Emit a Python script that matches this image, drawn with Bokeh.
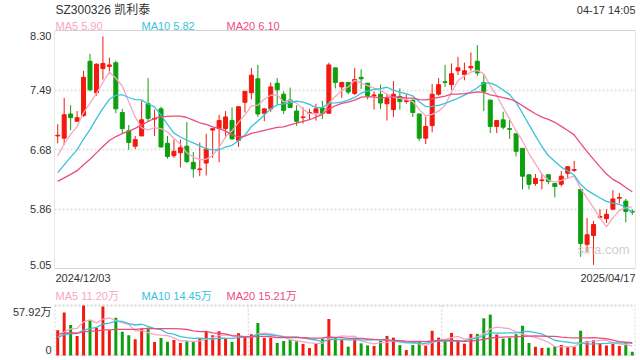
import numpy as np
from bokeh.plotting import figure
from bokeh.models import ColumnDataSource, Range1d, FixedTicker
from bokeh.core.properties import value
from bokeh.embed import file_html
from bokeh.resources import INLINE

# ---------------- data ----------------
symbol_title = "SZ300326 凯利泰"
time_stamp = "04-17 14:05"
first_date = "2024/12/03"
last_date = "2025/04/17"
price_ma_text = ["MA5 5.90", "MA10 5.82", "MA20 6.10"]
vol_ma_text = ["MA5 11.20万", "MA10 14.45万", "MA20 15.21万"]

open_ = [6.86, 6.83, 7.16, 7.06, 7.14, 7.88, 7.45, 7.78, 7.81, 7.86,
         7.18, 6.93, 6.72, 6.86, 7.30, 7.09, 7.23, 6.76, 6.59, 6.63,
         6.72, 6.50, 6.40, 6.49, 6.94, 6.96, 6.96, 7.07, 6.80, 7.32,
         7.45, 7.64, 7.17, 7.23, 7.58, 7.43, 7.35, 7.20, 7.11, 7.17,
         7.17, 7.24, 7.17, 7.79, 7.53, 7.59, 7.44, 7.66, 7.58, 7.41,
         7.43, 7.30, 7.22, 7.40, 7.33, 7.35, 7.16, 6.83, 7.00, 7.43,
         7.60, 7.56, 7.75, 7.70, 7.79, 7.88, 7.59, 7.35, 6.99, 7.08,
         6.96, 6.89, 6.69, 6.33, 6.21, 6.25, 6.33, 6.21, 6.20, 6.35,
         6.39, 6.13, 5.38, 5.50, 5.75, 5.73, 5.86, 6.01, 5.97, 5.83]
high = [7.02, 7.38, 7.28, 7.20, 7.75, 7.98, 7.85, 8.22, 7.93, 7.89,
        7.23, 7.01, 6.86, 7.34, 7.65, 7.22, 7.26, 6.86, 6.81, 6.81,
        7.05, 6.64, 6.77, 6.89, 6.96, 7.15, 7.20, 7.25, 7.26, 7.47,
        7.79, 7.83, 7.23, 7.59, 7.65, 7.47, 7.52, 7.28, 7.25, 7.23,
        7.30, 7.34, 7.86, 7.79, 7.60, 7.59, 7.79, 7.77, 7.58, 7.47,
        7.56, 7.43, 7.61, 7.51, 7.43, 7.35, 7.16, 7.12, 7.57, 7.65,
        7.83, 7.85, 7.94, 7.86, 8.00, 8.10, 7.69, 7.35, 7.07, 7.19,
        7.08, 6.89, 6.69, 6.33, 6.34, 6.34, 6.33, 6.21, 6.38, 6.45,
        6.52, 6.13, 5.74, 5.70, 5.86, 5.86, 6.12, 6.08, 6.00, 5.86]
low = [6.76, 6.74, 6.94, 7.06, 7.12, 7.47, 7.41, 7.63, 7.74, 7.17,
       6.90, 6.67, 6.68, 6.86, 7.06, 6.86, 6.70, 6.55, 6.56, 6.43,
       6.49, 6.29, 6.31, 6.32, 6.56, 6.50, 6.83, 6.81, 6.71, 7.18,
       7.36, 7.12, 7.06, 7.19, 7.29, 7.16, 7.25, 7.00, 7.03, 7.09,
       7.07, 7.09, 7.16, 7.51, 7.38, 7.43, 7.42, 7.50, 7.36, 7.22,
       7.23, 7.07, 7.12, 7.22, 7.30, 7.12, 6.79, 6.75, 6.91, 7.41,
       7.53, 7.49, 7.69, 7.62, 7.75, 7.68, 7.20, 6.90, 6.90, 6.95,
       6.82, 6.58, 6.13, 6.13, 6.18, 6.13, 6.20, 6.02, 6.17, 6.28,
       6.37, 5.21, 5.27, 5.10, 5.73, 5.67, 5.85, 5.94, 5.68, 5.78]
close = [6.87, 7.15, 7.11, 7.11, 7.66, 7.49, 7.84, 7.85, 7.83, 7.23,
         6.96, 6.77, 6.81, 7.08, 7.10, 7.10, 6.71, 6.58, 6.65, 6.70,
         6.51, 6.41, 6.41, 6.68, 6.96, 7.07, 7.12, 6.82, 7.26, 7.47,
         7.69, 7.16, 7.23, 7.53, 7.49, 7.21, 7.25, 7.06, 7.12, 7.18,
         7.23, 7.17, 7.83, 7.59, 7.59, 7.46, 7.63, 7.64, 7.41, 7.42,
         7.31, 7.37, 7.43, 7.33, 7.34, 7.18, 6.83, 6.99, 7.43, 7.56,
         7.59, 7.71, 7.79, 7.75, 7.81, 7.72, 7.47, 6.99, 7.07, 6.98,
         6.95, 6.65, 6.31, 6.20, 6.28, 6.26, 6.24, 6.17, 6.31, 6.44,
         6.40, 5.39, 5.51, 5.65, 5.76, 5.79, 6.00, 6.02, 5.83, 5.82]
volume = [29.35, 49.7, 35.2, 22.7, 57.92, 41.1, 32.1, 56.7, 29.35, 43.8,
          27.4, 23.5, 18.8, 31.3, 32.1, 15.7, 20.4, 16.0, 18.0, 14.5,
          16.4, 15.7, 19.6, 28.2, 23.5, 28.2, 19.6, 15.7, 25.8, 21.5,
          24.7, 37.6, 20.4, 20.4, 14.5, 16.8, 18.4, 16.4, 13.3, 8.6,
          13.3, 19.2, 42.3, 20.7, 18.0, 10.2, 20.4, 14.1, 11.7, 11.0,
          16.8, 22.7, 20.7, 12.1, 6.3, 12.1, 15.7, 11.7, 28.6, 20.7,
          16.8, 26.2, 18.0, 13.7, 25.0, 25.0, 43.1, 47.4, 24.3, 19.6,
          20.7, 24.7, 34.4, 14.5, 10.2, 8.6, 9.0, 10.6, 12.1, 10.2,
          10.2, 28.6, 16.8, 18.0, 13.7, 11.7, 13.3, 11.0, 14.1, 4.3]
# sessions before the window (estimated), only used for the moving averages
prev_close = [6.20, 6.15, 6.10, 6.05, 6.00, 6.08, 6.12, 6.18, 6.15, 6.17,
              6.10, 6.05, 6.12, 6.18, 6.20, 6.35, 6.45, 6.58, 6.70]
prev_volume = [30, 28, 32, 27, 26, 31, 29, 30, 28, 29,
               22, 20, 21, 19, 23, 18.0, 17.5, 20.15, 20.0]

price_tick_values = [8.30, 7.4875, 6.675, 5.8625, 5.05]
price_tick_labels = ["8.30", "7.49", "6.68", "5.86", "5.05"]
vol_max = 57.92
vol_tick_labels = ["57.92万", "0"]

# ---------------- style ----------------
RED, GREEN = "#F2190E", "#0E9F0E"
C_MA5, C_MA10, C_MA20 = "#F7A6C2", "#37C3DC", "#EC4C7E"
FONT = "Liberation Sans"
FONT_CJK = "Liberation Sans, Noto Sans CJK SC"
TXT = "#333333"

n = len(close)
idx = list(range(n))
colors = [RED if c >= o else GREEN for o, c in zip(open_, close)]


def moving_avg(prev, vals, w):
    full = np.array(list(prev) + list(vals), dtype=float)
    off = len(prev)
    return [float(full[off + i - w + 1: off + i + 1].mean()) for i in range(len(vals))]


src = ColumnDataSource(dict(
    x=idx, o=open_, h=high, l=low, c=close, v=volume, color=colors,
    top=[max(a, b) for a, b in zip(open_, close)],
    bot=[min(a, b) for a, b in zip(open_, close)],
    ma5=moving_avg(prev_close, close, 5), ma10=moving_avg(prev_close, close, 10),
    ma20=moving_avg(prev_close, close, 20),
    vma5=moving_avg(prev_volume, volume, 5), vma10=moving_avg(prev_volume, volume, 10),
    vma20=moving_avg(prev_volume, volume, 20),
))

# ---------------- layout (pixels inside one figure) ----------------
W, H = 640, 356
LEFT, RIGHT = 54, 5
FRAME_W = W - LEFT - RIGHT
P_TOP, P_BOT = 30, 268      # price box
V_TOP, V_BOT = 305, 355     # volume box

ymin, ymax = min(price_tick_values), max(price_tick_values)
ppy1 = (ymax - ymin) / (P_BOT - P_TOP)
ppy2 = vol_max / (V_BOT - V_TOP)
ppx = n / FRAME_W
x0, x1 = -0.5, n - 0.5

p = figure(width=W, height=H,
           x_range=Range1d(x0, x1),
           y_range=Range1d(ymin - (H - P_BOT) * ppy1, ymax + P_TOP * ppy1),
           output_backend="svg", toolbar_location=None,
           min_border_left=LEFT, min_border_right=RIGHT,
           min_border_top=0, min_border_bottom=0)
p.extra_y_ranges = {"vol": Range1d(-(H - V_BOT) * ppy2, vol_max + V_TOP * ppy2)}

p.xaxis.visible = False
p.background_fill_color = "white"
p.border_fill_color = "white"
p.outline_line_color = None
p.xgrid.grid_line_color = None


def vol_in_price_units(v):
    px = V_BOT - v / ppy2
    return ymax - (px - P_TOP) * ppy1


# one left axis: price labels (outer ones nudged inside the box) + volume labels
tick_pos = ([price_tick_values[0] - 5.5 * ppy1] + price_tick_values[1:-1]
            + [price_tick_values[-1] + 4 * ppy1]
            + [vol_in_price_units(vol_max - 6 * ppy2), vol_in_price_units(6 * ppy2)])
tick_txt = price_tick_labels + vol_tick_labels
ax = p.yaxis[0]
ax.ticker = FixedTicker(ticks=tick_pos)
ax.major_label_overrides = {float(k): t for k, t in zip(tick_pos, tick_txt)}
ax.axis_line_color = None
ax.major_tick_line_color = None
ax.minor_tick_line_color = None
ax.major_tick_out = 0
ax.major_tick_in = 0
ax.major_label_standoff = 3
ax.major_label_text_font_size = "11px"
ax.major_label_text_color = TXT
ax.major_label_text_font = FONT_CJK

p.ygrid.ticker = FixedTicker(ticks=price_tick_values[1:-1])
p.ygrid.grid_line_color = "#e3e3e3"
p.ygrid.grid_line_width = 2
p.ygrid.grid_line_dash = "2 2"

# price box
p.quad(left=x0, right=x1, bottom=ymin, top=ymax, fill_color=None,
       line_color="#d2d2d2", line_width=1)
# volume box and the two dotted dividers
p.quad(left=x0, right=x1, bottom=0, top=vol_max, fill_color=None,
       line_color="#d6d6d6", line_width=2, line_dash="2 2", y_range_name="vol")
p.segment(x0=[x0 + n / 3, x0 + 2 * n / 3], y0=[0, 0],
          x1=[x0 + n / 3, x0 + 2 * n / 3], y1=[vol_max, vol_max],
          line_color="#cccccc", line_width=1, line_dash="2 2", y_range_name="vol")

# candles
p.segment(x0="x", y0="l", x1="x", y1="h", line_color="color", line_width=1, source=src)
p.vbar(x="x", width=0.62, top="top", bottom="bot", fill_color="color",
       line_color="color", line_width=1, source=src)
for col, clr in (("ma5", C_MA5), ("ma10", C_MA10), ("ma20", C_MA20)):
    p.line("x", col, line_color=clr, line_width=1.3, source=src)

# volume
p.vbar(x="x", width=0.46, top="v", bottom=0, fill_color="color", line_color=None,
       source=src, y_range_name="vol")
for col, clr in (("vma5", C_MA5), ("vma10", C_MA10), ("vma20", C_MA20)):
    p.line("x", col, line_color=clr, line_width=1.3, source=src, y_range_name="vol")


# ---------------- texts ----------------
def lab(x, y, text, color=TXT, size="11px", align="left", font=FONT, rng="default"):
    p.text(x=[x], y=[y], text=[text], text_color=color, text_font_size=size,
           text_align=align, text_baseline="middle", text_font=value(font),
           y_range_name=rng)


lab(x0 + 1 * ppx, ymax + 21 * ppy1, symbol_title, size="12px", font=FONT_CJK)
lab(x1, ymax + 21 * ppy1, time_stamp, align="right")
for t, clr, px in zip(price_ma_text, (C_MA5, C_MA10, C_MA20), (1, 87, 172)):
    lab(x0 + px * ppx, ymax + 4.5 * ppy1, t, color=clr)
lab(x0 + 1 * ppx, ymin - 9 * ppy1, first_date)
lab(x1, ymin - 9 * ppy1, last_date, align="right")
lab(x0 + 549 * ppx, ymin + 19 * ppy1, "sina.com", color="#cfcfcf", size="13px", align="center")

for t, clr, px in zip(vol_ma_text, (C_MA5, C_MA10, C_MA20), (1, 87, 172)):
    lab(x0 + px * ppx, vol_max + 9.5 * ppy2, t, color=clr, font=FONT_CJK, rng="vol")

open("out.html", "w").write(file_html(p, INLINE))
